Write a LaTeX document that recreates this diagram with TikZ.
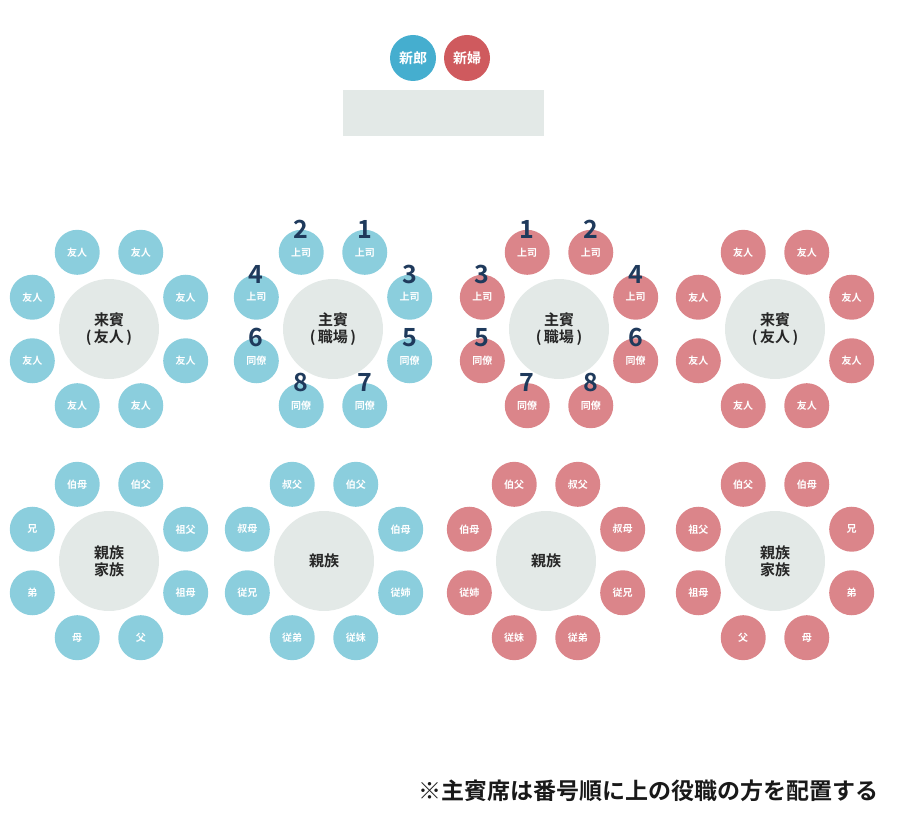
\documentclass[tikz,border=0pt]{standalone}
\usepackage{fontspec}
\setmainfont{Noto Sans CJK JP}[BoldFont={Noto Sans CJK JP Bold}]
\usetikzlibrary{positioning}
\definecolor{groomblue}{HTML}{45AECF}
\definecolor{bridered}{HTML}{CF5A5E}
\definecolor{seatblue}{HTML}{8BCEDD}
\definecolor{seatred}{HTML}{DB858A}
\definecolor{tablegray}{HTML}{E3E9E7}
\definecolor{numnavy}{HTML}{1F3A5C}
\tikzset{
	table/.style={circle,fill=tablegray,minimum size=100pt,inner sep=0pt,align=center,font=\bfseries\fontsize{15}{17}\selectfont,text=black!85},
	seat/.style={circle,fill=#1,minimum size=45pt,inner sep=0pt,text=white,font=\bfseries\fontsize{10}{12}\selectfont},
	num/.style={text=numnavy,font=\bfseries\fontsize{25}{25}\selectfont},
}
% one table: name, x, y, colour, centre text, eight seat labels
\newcommand{\seatring}[5]{%
	\node[table] (#1) at (#2,#3) {#5};
	\foreach \lab [count=\i] in #4 {
		\pgfmathsetmacro{\ang}{112.5-45*(\i-1)}
		\node[seat=\seatcol] (#1s\i) at ([shift={(\ang:83pt)}]#1.center) {\lab};
	}%
}
\begin{document}
\begin{tikzpicture}[x=1pt,y=1pt]
	\useasboundingbox (0,0) rectangle (902,-818);
	% head table
	\node[circle,fill=groomblue,minimum size=46pt,inner sep=0pt,text=white,font=\bfseries\fontsize{14}{14}\selectfont] (groom) at (413,-58) {新郎};
	\node[circle,fill=bridered,minimum size=46pt,inner sep=0pt,text=white,font=\bfseries\fontsize{14}{14}\selectfont] (bride) at (467,-58) {新婦};
	\node[fill=tablegray,minimum width=201pt,minimum height=46pt,inner sep=0pt] (head) at (443.5,-113) {};
	% guest tables
	\def\seatcol{seatblue}
	\seatring{t1}{109}{-329}{{友人,友人,友人,友人,友人,友人,友人,友人}}{来賓\\(\,友人\,)}
	\seatring{t2}{333}{-329}{{上司,上司,上司,同僚,同僚,同僚,同僚,上司}}{主賓\\(\,職場\,)}
	\seatring{t5}{109}{-561}{{伯母,伯父,祖父,祖母,父,母,弟,兄}}{親族\\家族}
	\seatring{t6}{324}{-561}{{叔父,伯父,伯母,従姉,従妹,従弟,従兄,叔母}}{親族}
	\def\seatcol{seatred}
	\seatring{t3}{559}{-329}{{上司,上司,上司,同僚,同僚,同僚,同僚,上司}}{主賓\\(\,職場\,)}
	\seatring{t4}{775}{-329}{{友人,友人,友人,友人,友人,友人,友人,友人}}{来賓\\(\,友人\,)}
	\seatring{t7}{546}{-561}{{伯父,叔父,叔母,従兄,従弟,従妹,従姉,伯母}}{親族}
	\seatring{t8}{775}{-561}{{伯父,伯母,兄,弟,母,父,祖母,祖父}}{親族\\家族}
	% seat order numbers
	\foreach \s/\n in {1/2,2/1,3/3,4/5,5/7,6/8,7/6,8/4}
		\node[num] at ([yshift=23pt]t2s\s.center) {\n};
	\foreach \s/\n in {1/1,2/2,3/4,4/6,5/8,6/7,7/5,8/3}
		\node[num] at ([yshift=23pt]t3s\s.center) {\n};
	% note
	\node[anchor=base east,font=\bfseries\fontsize{23}{23}\selectfont,text=black!90] (note) at (882,-799) {※主賓席は番号順に上の役職の方を配置する};
\end{tikzpicture}
\end{document}
